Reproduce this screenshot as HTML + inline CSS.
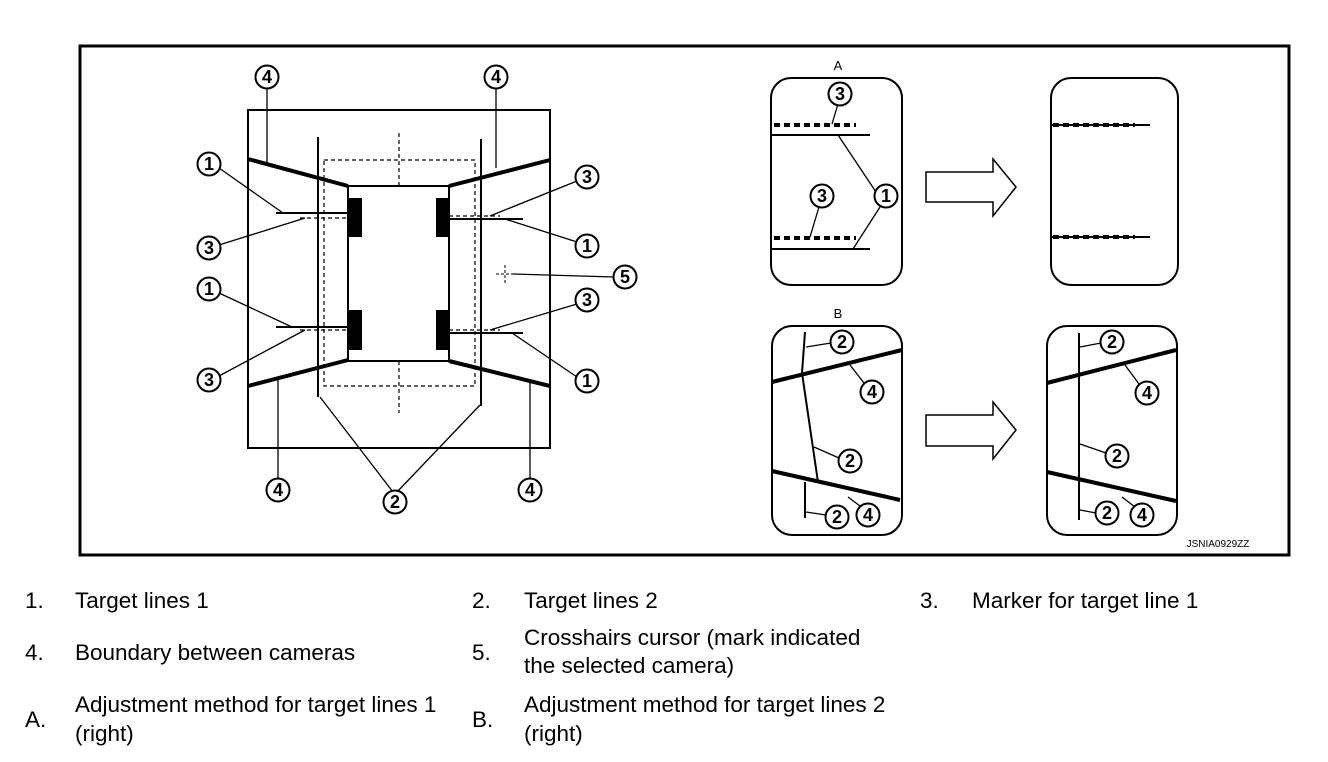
<!DOCTYPE html>
<html><head><style>html,body{margin:0;padding:0;background:#fff}svg{display:block}</style></head><body>
<svg width="1328" height="762" viewBox="0 0 1328 762" xmlns="http://www.w3.org/2000/svg" font-family="Liberation Sans, Arial, sans-serif">
<defs>
<g id="c"><circle r="11.5" fill="#fff" stroke="#000" stroke-width="2"/></g>
</defs>
<rect x="80" y="46" width="1209" height="509" fill="none" stroke="#000" stroke-width="3"/>

<g stroke="#000" fill="none">
<rect x="248" y="110" width="302" height="338" stroke-width="2"/>
<g stroke-width="4">
<line x1="248" y1="159" x2="348" y2="186"/>
<line x1="449" y1="186" x2="550" y2="160"/>
<line x1="248" y1="386" x2="348" y2="360"/>
<line x1="449" y1="361" x2="550" y2="386"/>
</g>
<rect x="348" y="186" width="101" height="175" stroke-width="2"/>
<line x1="318" y1="137" x2="318" y2="397" stroke-width="2"/>
<line x1="481" y1="139" x2="481" y2="406" stroke-width="2"/>
<rect x="324" y="160" width="151" height="226" stroke-width="1.2" stroke-dasharray="4,3"/>
<line x1="399" y1="133" x2="399" y2="186" stroke-width="1.2" stroke-dasharray="4,3"/>
<line x1="399" y1="361" x2="399" y2="413" stroke-width="1.2" stroke-dasharray="4,3"/>
<g stroke-width="2">
<line x1="276" y1="213" x2="348" y2="213"/>
<line x1="276" y1="327" x2="348" y2="327"/>
<line x1="449" y1="219" x2="523" y2="219"/>
<line x1="449" y1="333" x2="523" y2="333"/>
</g>
<g stroke-width="1.2" stroke-dasharray="4,3">
<line x1="300" y1="218" x2="348" y2="218"/>
<line x1="300" y1="330" x2="348" y2="330"/>
<line x1="449" y1="216" x2="500" y2="216"/>
<line x1="449" y1="330" x2="500" y2="330"/>
</g>
<g stroke-width="1" stroke-dasharray="3,2">
<line x1="496" y1="274" x2="514" y2="274"/>
<line x1="505" y1="265" x2="505" y2="284"/>
</g>
<g stroke-width="1.3">
<line x1="267" y1="88" x2="267" y2="165"/>
<line x1="496" y1="88" x2="496" y2="168"/>
<line x1="219" y1="168" x2="283" y2="213"/>
<line x1="219" y1="245" x2="305" y2="218"/>
<line x1="219" y1="293" x2="292" y2="327"/>
<line x1="219" y1="376" x2="305" y2="330"/>
<line x1="577" y1="181" x2="490" y2="216"/>
<line x1="577" y1="242" x2="505" y2="219"/>
<line x1="614" y1="277" x2="513" y2="274"/>
<line x1="577" y1="304" x2="490" y2="330"/>
<line x1="577" y1="377" x2="512" y2="333"/>
<line x1="278" y1="479" x2="278" y2="378"/>
<line x1="530" y1="479" x2="530" y2="381"/>
<line x1="393" y1="492" x2="320" y2="397"/>
<line x1="397" y1="492" x2="480" y2="405"/>
</g>
</g>
<g fill="#000">
<rect x="348" y="198" width="14" height="39"/>
<rect x="348" y="310" width="14" height="40"/>
<rect x="436" y="198" width="13" height="39"/>
<rect x="436" y="310" width="13" height="40"/>
</g>
<g font-size="18" font-weight="bold" text-anchor="middle">
<use href="#c" x="267" y="77"/><text x="267" y="83">4</text>
<use href="#c" x="496" y="77"/><text x="496" y="83">4</text>
<use href="#c" x="209" y="164"/><text x="209" y="170">1</text>
<use href="#c" x="209" y="248"/><text x="209" y="254">3</text>
<use href="#c" x="209" y="289"/><text x="209" y="295">1</text>
<use href="#c" x="209" y="380"/><text x="209" y="386">3</text>
<use href="#c" x="587" y="177"/><text x="587" y="183">3</text>
<use href="#c" x="587" y="246"/><text x="587" y="252">1</text>
<use href="#c" x="625" y="277"/><text x="625" y="283">5</text>
<use href="#c" x="587" y="300"/><text x="587" y="306">3</text>
<use href="#c" x="587" y="381"/><text x="587" y="387">1</text>
<use href="#c" x="278" y="490"/><text x="278" y="496">4</text>
<use href="#c" x="530" y="490"/><text x="530" y="496">4</text>
<use href="#c" x="395" y="502"/><text x="395" y="508">2</text>
</g>

<g stroke="#000" fill="none" stroke-width="2">
<rect x="771" y="78" width="131" height="207" rx="20"/>
<rect x="1051" y="78" width="127" height="207" rx="20"/>
<rect x="772" y="326" width="130" height="209" rx="20"/>
<rect x="1047" y="326" width="130" height="209" rx="20"/>
<path d="M926 172 H993 V159 L1016 187 L993 216 V202 H926 Z" stroke-width="1.5"/>
<path d="M926 415 H993 V402 L1016 430 L993 459 V446 H926 Z" stroke-width="1.5"/>
<line x1="771" y1="135" x2="870" y2="135"/>
<line x1="771" y1="249" x2="870" y2="249"/>
<line x1="774" y1="125" x2="856" y2="125" stroke-width="4" stroke-dasharray="6,4"/>
<line x1="774" y1="238" x2="856" y2="238" stroke-width="4" stroke-dasharray="6,4"/>
<line x1="1051" y1="125" x2="1150" y2="125"/>
<line x1="1051" y1="237" x2="1150" y2="237"/>
<line x1="1053" y1="125" x2="1135" y2="125" stroke-width="4" stroke-dasharray="6,4"/>
<line x1="1053" y1="237" x2="1135" y2="237" stroke-width="4" stroke-dasharray="6,4"/>
<g stroke-width="1.3">
<line x1="838" y1="104" x2="832" y2="124"/>
<line x1="819" y1="207" x2="810" y2="237"/>
<line x1="876" y1="192" x2="838" y2="135"/>
<line x1="880" y1="207" x2="853" y2="249"/>
</g>
<line x1="772" y1="382" x2="902" y2="350" stroke-width="4"/>
<line x1="772" y1="471" x2="900" y2="500" stroke-width="4"/>
<polyline points="805,332 802,373 818,482"/>
<line x1="805" y1="482" x2="805" y2="518"/>
<line x1="1047" y1="383" x2="1176" y2="350" stroke-width="4"/>
<line x1="1047" y1="472" x2="1176" y2="501" stroke-width="4"/>
<line x1="1079" y1="333" x2="1079" y2="520"/>
<g stroke-width="1.3">
<line x1="806" y1="347" x2="831" y2="343"/>
<line x1="850" y1="365" x2="864" y2="383"/>
<line x1="814" y1="447" x2="839" y2="458"/>
<line x1="806" y1="512" x2="826" y2="515"/>
<line x1="848" y1="497" x2="860" y2="506"/>
<line x1="1080" y1="347" x2="1101" y2="343"/>
<line x1="1125" y1="365" x2="1139" y2="384"/>
<line x1="1080" y1="444" x2="1106" y2="453"/>
<line x1="1080" y1="510" x2="1096" y2="513"/>
<line x1="1122" y1="497" x2="1135" y2="507"/>
</g>
</g>
<g font-size="18" font-weight="bold" text-anchor="middle">
<use href="#c" x="840" y="94"/><text x="840" y="100">3</text>
<use href="#c" x="822" y="196"/><text x="822" y="202">3</text>
<use href="#c" x="886" y="196"/><text x="886" y="202">1</text>
<use href="#c" x="842" y="342"/><text x="842" y="348">2</text>
<use href="#c" x="872" y="392"/><text x="872" y="398">4</text>
<use href="#c" x="850" y="461"/><text x="850" y="467">2</text>
<use href="#c" x="837" y="517"/><text x="837" y="523">2</text>
<use href="#c" x="868" y="515"/><text x="868" y="521">4</text>
<use href="#c" x="1112" y="342"/><text x="1112" y="348">2</text>
<use href="#c" x="1147" y="393"/><text x="1147" y="399">4</text>
<use href="#c" x="1117" y="456"/><text x="1117" y="462">2</text>
<use href="#c" x="1107" y="513"/><text x="1107" y="519">2</text>
<use href="#c" x="1142" y="515"/><text x="1142" y="521">4</text>
</g>
<g font-size="13" text-anchor="middle">
<text x="838" y="70">A</text>
<text x="838" y="318">B</text>
</g>
<text x="1218" y="547" font-size="10" text-anchor="middle">JSNIA0929ZZ</text>

<g font-size="22.5">
<text x="25" y="608">1.</text><text x="75" y="608">Target lines 1</text>
<text x="472" y="608">2.</text><text x="524" y="608">Target lines 2</text>
<text x="920" y="608">3.</text><text x="972" y="608">Marker for target line 1</text>
<text x="25" y="660">4.</text><text x="75" y="660">Boundary between cameras</text>
<text x="472" y="660">5.</text><text x="524" y="645">Crosshairs cursor (mark indicated</text><text x="524" y="673">the selected camera)</text>
<text x="25" y="727">A.</text><text x="75" y="712">Adjustment method for target lines 1</text><text x="75" y="741">(right)</text>
<text x="472" y="727">B.</text><text x="524" y="712">Adjustment method for target lines 2</text><text x="524" y="741">(right)</text>
</g>
</svg>
</body></html>
